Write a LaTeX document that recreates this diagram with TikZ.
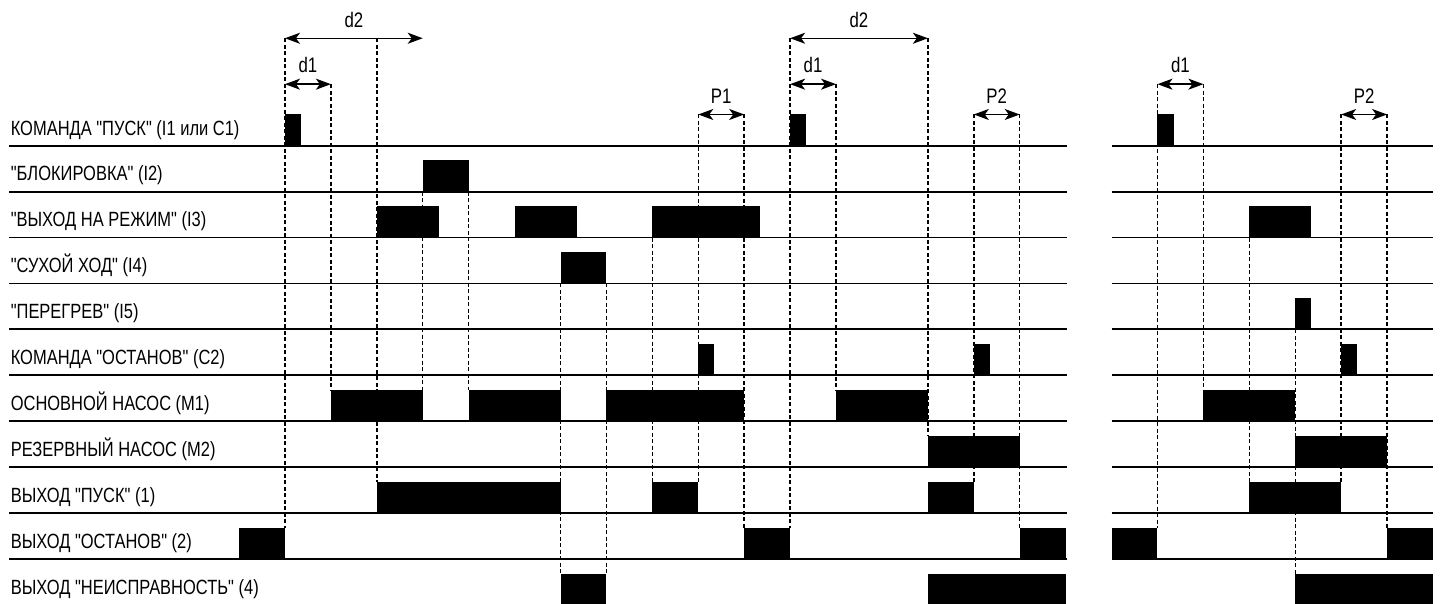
\documentclass[tikz,border=0pt]{standalone}
\usepackage{fontspec}
\setmainfont[FakeStretch=0.80,Ligatures=TeXOff]{Liberation Sans}
\usetikzlibrary{arrows.meta}
\begin{document}
\begin{tikzpicture}[x=45.92pt,y=45.92pt,
  lbl/.style={anchor=base west,inner sep=0pt,font=\fontsize{20.6}{24}\selectfont},
  toplbl/.style={anchor=base,inner sep=0pt,font=\fontsize{21}{24}\selectfont},
  rowline/.style={line width=1.8pt},
  dashline/.style={line width=1.4pt,dash pattern=on 4pt off 2.5pt},
  bar/.style={fill=black,draw=none},
  dim/.style={line width=1.5pt,{Stealth[length=15pt,width=11pt,inset=4pt]}-{Stealth[length=15pt,width=11pt,inset=4pt]}}
]
\useasboundingbox (-6.206,-9.959) rectangle (25.174,3.173);
\clip (-6.206,-9.959) rectangle (25.174,3.173);

% dashed guide lines (drawn first, behind everything)
\foreach \k/\a/\b in {0/2.34/-8.32, 1/1.34/-5.32, 2/2.34/-7.32, 3/-1/-5.32, 4/-1/-5.32,
  6/-3/-9.32, 7/-3/-9.32, 8/-2/-7.32, 9/0.68/-7.32, 10/0.68/-8.32, 11/2.34/-8.32,
  12/1.34/-5.32, 14/2.34/-6.32, 15/0.68/-7.32, 16/0.68/-8.32,
  19/1.34/-8.32, 20/1.34/-5.32, 21/-2/-7.32, 22/-4/-9.32, 23/0.68/-7.32, 24/0.68/-8.32}
  \draw[dashline] (\k,\a) -- (\k,\b);

% row base lines
\foreach \r in {1,...,10} {
  \draw[rowline] (-6,{-(\r-1)}) -- (17.03,{-(\r-1)});
  \draw[rowline] (18,{-(\r-1)}) -- (25,{-(\r-1)});
}

% signal bars
\foreach \r/\a/\b in {1/0/0.35, 1/11/11.35, 1/19/19.35,
  2/3/4,
  3/2/3.35, 3/5/6.35, 3/8/10.35, 3/21/22.35,
  4/6/7,
  5/22/22.35,
  6/9/9.35, 6/15/15.35, 6/23/23.35,
  7/1/3, 7/4/6, 7/7/10, 7/12/14, 7/20/22,
  8/14/16, 8/22/24,
  9/2/6, 9/8/9, 9/14/15, 9/21/23,
  10/-1/0, 10/10/11, 10/16/17, 10/18/19, 10/24/25,
  11/6/7, 11/14/17, 11/22/25}
  \fill[bar] (\a,{-(\r-1)}) rectangle (\b,{-(\r-1)+0.68});

% row labels
\node[lbl] (r1) at (-5.975,0.233) {КОМАНДА "ПУСК" (I1 или C1)};
\node[lbl] (r2) at (-5.975,-0.767) {"БЛОКИРОВКА" (I2)};
\node[lbl] (r3) at (-5.975,-1.767) {"ВЫХОД НА РЕЖИМ" (I3)};
\node[lbl] (r4) at (-5.975,-2.767) {"СУХОЙ ХОД" (I4)};
\node[lbl] (r5) at (-5.975,-3.767) {"ПЕРЕГРЕВ" (I5)};
\node[lbl] (r6) at (-5.975,-4.767) {КОМАНДА "ОСТАНОВ" (C2)};
\node[lbl] (r7) at (-5.975,-5.767) {ОСНОВНОЙ НАСОС (M1)};
\node[lbl] (r8) at (-5.975,-6.767) {РЕЗЕРВНЫЙ НАСОС (M2)};
\node[lbl] (r9) at (-5.975,-7.767) {ВЫХОД "ПУСК" (1)};
\node[lbl] (r10) at (-5.975,-8.767) {ВЫХОД "ОСТАНОВ" (2)};
\node[lbl] (r11) at (-5.975,-9.767) {ВЫХОД "НЕИСПРАВНОСТЬ" (4)};

% dimension arrows
\coordinate (d2aL) at (0,2.34);  \coordinate (d2aR) at (3,2.34);
\coordinate (d2bL) at (11,2.34); \coordinate (d2bR) at (14,2.34);
\coordinate (d1aL) at (0,1.34);  \coordinate (d1aR) at (1,1.34);
\coordinate (d1bL) at (11,1.34); \coordinate (d1bR) at (12,1.34);
\coordinate (d1cL) at (19,1.34); \coordinate (d1cR) at (20,1.34);
\coordinate (p1L) at (9,0.68);   \coordinate (p1R) at (10,0.68);
\coordinate (p2aL) at (15,0.68); \coordinate (p2aR) at (16,0.68);
\coordinate (p2bL) at (23,0.68); \coordinate (p2bR) at (24,0.68);
\draw[dim] (d2aL) -- (d2aR);
\draw[dim] (d2bL) -- (d2bR);
\draw[dim] (d1aL) -- (d1aR);
\draw[dim] (d1bL) -- (d1bR);
\draw[dim] (d1cL) -- (d1cR);
\draw[dim] (p1L) -- (p1R);
\draw[dim] (p2aL) -- (p2aR);
\draw[dim] (p2bL) -- (p2bR);

\node[toplbl] (t1) at (1.5,2.57) {d2};
\node[toplbl] (t2) at (12.5,2.57) {d2};
\node[toplbl] (t3) at (0.5,1.59) {d1};
\node[toplbl] (t4) at (11.5,1.59) {d1};
\node[toplbl] (t5) at (19.5,1.59) {d1};
\node[toplbl] (t6) at (9.5,0.93) {P1};
\node[toplbl] (t7) at (15.5,0.93) {P2};
\node[toplbl] (t8) at (23.5,0.93) {P2};
\end{tikzpicture}
\end{document}
